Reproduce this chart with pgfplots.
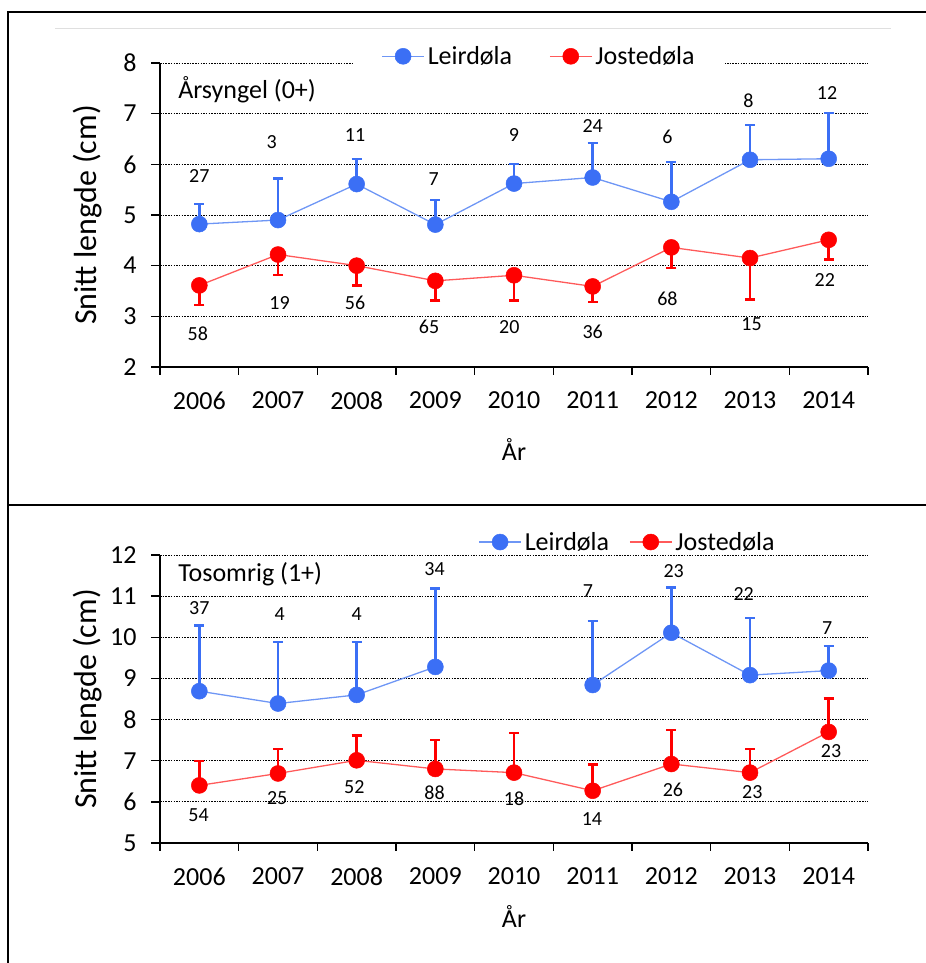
\documentclass[border=0pt]{standalone}
\usepackage{fontspec}
\setmainfont{Carlito}
\usepackage{pgfplots}
\pgfplotsset{compat=1.18}
\definecolor{bmark}{RGB}{59,111,245}
\definecolor{bline}{RGB}{110,150,245}
\definecolor{rmark}{RGB}{255,0,0}
\definecolor{rline}{RGB}{255,90,90}
\newcommand{\bigf}{\fontsize{26bp}{30bp}\selectfont}
\newcommand{\ylf}{\fontsize{32bp}{36bp}\selectfont}
\newcommand{\smf}{\fontsize{20bp}{24bp}\selectfont}

\pgfplotsset{
 common/.style={
  scale only axis, width=708bp,
  xmin=-0.5, xmax=8.5,
  xtick={0,...,8},
  xticklabels={2006,2007,2008,2009,2010,2011,2012,2013,2014},
  minor xtick={-0.5,0.5,...,8.5},
  major x tick style={draw=none},
  tick align=outside,
  major tick length=9bp, minor tick length=8bp,
  axis x line*=bottom, axis y line*=left,
  axis line style={line width=1.5bp,-},
  tick style={black,line width=1.5bp},
  ymajorgrids,
  grid style={black, line width=0.8bp, dash pattern=on 1.5bp off 1.2bp},
  tick label style={font=\bigf},
  xticklabel style={yshift=-12bp},
  yticklabel style={xshift=-11bp},
  /pgf/number format/assume math mode=true,
  label style={font=\bigf},
  ylabel={Snitt lengde (cm)},
  xlabel={År},
  ylabel style={at={(axis description cs:-0.1017,0.5)}, anchor=center, font=\ylf},
  clip=false,
  legend columns=2,
  legend image code/.code={\draw[mark repeat=2,mark phase=2,#1] plot coordinates {(0bp,0bp) (21bp,0bp) (42bp,0bp)};},
  legend style={fill=white, draw=none, font=\bigf, anchor=center, nodes={inner xsep=3bp, inner ysep=1bp}},
 },
 bser/.style={color=bline, line width=1.3bp, mark=*, mark size=8bp, mark options={fill=bmark, draw=bmark, line width=0.5bp},
   error bars/error bar style={color=bmark, line width=2.4bp},
   error bars/error mark options={rotate=90, color=bmark, line width=2.4bp, mark size=5bp}},
 rser/.style={color=rline, line width=1.3bp, mark=*, mark size=8bp, mark options={fill=rmark, draw=rmark, line width=0.5bp},
   error bars/error bar style={color=rmark, line width=2.4bp},
   error bars/error mark options={rotate=90, color=rmark, line width=2.4bp, mark size=5bp}},
 labs/.style={forget plot, draw=none, mark=none, nodes near coords, point meta=explicit symbolic,
   nodes near coords align=center,
   every node near coord/.append style={font=\smf, inner sep=0pt, black, anchor=center}},
}

\begin{document}
\begin{tikzpicture}[x=1bp,y=1bp]
\useasboundingbox (0,0) rectangle (926,963);
% frame
\draw[line width=2.5bp] (8,0) -- (8,951) -- (926,951);
\draw[line width=2.5bp] (8,458) -- (926,458);
\draw[gray!25, line width=1bp] (55,934) -- (891,934);

% ---------- top panel ----------
\begin{axis}[common, at={(160bp,596bp)}, anchor=south west, height=304bp,
  ymin=2, ymax=8, ytick={2,...,8},
  xlabel style={at={(axis description cs:0.5,-0.273)}, anchor=center},
  legend style={at={(axis description cs:0.536,1.022)}, inner xsep=27bp,
    /tikz/every even column/.append style={column sep=34bp}}]
\addplot+[bser, error bars/.cd, y dir=plus, y explicit] coordinates {
 (0,4.82) +- (0,0.40)
 (1,4.90) +- (0,0.82)
 (2,5.61) +- (0,0.50)
 (3,4.81) +- (0,0.49)
 (4,5.62) +- (0,0.39)
 (5,5.74) +- (0,0.68)
 (6,5.26) +- (0,0.79)
 (7,6.09) +- (0,0.69)
 (8,6.11) +- (0,0.90)
};
\addplot+[rser, error bars/.cd, y dir=minus, y explicit] coordinates {
 (0,3.61) +- (0,0.39)
 (1,4.22) +- (0,0.40)
 (2,4.00) +- (0,0.39)
 (3,3.70) +- (0,0.39)
 (4,3.81) +- (0,0.50)
 (5,3.59) +- (0,0.31)
 (6,4.36) +- (0,0.41)
 (7,4.15) +- (0,0.82)
 (8,4.51) +- (0,0.39)
};
\legend{Leirdøla, Jostedøla}
\addplot[labs] table[meta=l] {
x y l
0.00 5.76 27
0.92 6.43 3
1.98 6.57 11
2.98 5.71 7
4.00 6.57 9
5.00 6.75 24
5.95 6.55 6
6.98 7.26 8
7.98 7.41 12
};
\addplot[labs] table[meta=l] {
x y l
-0.02 2.66 58
1.02 3.26 19
1.98 3.26 56
2.92 2.79 65
3.94 2.79 20
5.00 2.70 36
5.95 3.34 68
7.02 2.84 15
7.95 3.71 22
};
\node[anchor=west, font=\bigf, inner sep=0pt] at (axis cs:-0.27,7.47) {Årsyngel (0+)};
\end{axis}

% ---------- bottom panel ----------
\begin{axis}[common, at={(160bp,120bp)}, anchor=south west, height=288bp,
  ymin=5, ymax=12, ytick={5,...,12},
  xlabel style={at={(axis description cs:0.5,-0.2535)}, anchor=center},
  legend style={at={(axis description cs:0.661,1.045)}, inner xsep=10bp,
    /tikz/every even column/.append style={column sep=17bp}}]
\addplot+[bser, error bars/.cd, y dir=plus, y explicit] coordinates {
 (0,8.69) +- (0,1.60)
 (1,8.39) +- (0,1.49)
 (2,8.60) +- (0,1.28)
 (3,9.28) +- (0,1.91)
};
\addplot+[rser, error bars/.cd, y dir=plus, y explicit] coordinates {
 (0,6.40) +- (0,0.60)
 (1,6.69) +- (0,0.60)
 (2,7.01) +- (0,0.60)
 (3,6.80) +- (0,0.70)
 (4,6.71) +- (0,0.97)
 (5,6.27) +- (0,0.64)
 (6,6.92) +- (0,0.82)
 (7,6.71) +- (0,0.58)
 (8,7.70) +- (0,0.81)
};
\legend{Leirdøla, Jostedøla}
\addplot+[bser, forget plot, error bars/.cd, y dir=plus, y explicit] coordinates {
 (5,8.84) +- (0,1.56)
 (6,10.11) +- (0,1.10)
 (7,9.08) +- (0,1.39)
 (8,9.19) +- (0,0.60)
};
\addplot[labs] table[meta=l] {
x y l
0.00 10.70 37
1.02 10.56 4
2.00 10.56 4
2.99 11.65 34
4.94 11.13 7
6.03 11.62 23
6.92 11.05 22
7.98 10.23 7
};
\addplot[labs] table[meta=l] {
x y l
-0.01 5.67 54
0.99 6.08 25
1.97 6.35 52
2.99 6.22 88
4.00 6.08 18
4.99 5.58 14
6.02 6.30 26
7.03 6.24 23
8.03 7.24 23
};
\node[anchor=west, font=\bigf, inner sep=0pt] at (axis cs:-0.27,11.53) {Tosomrig (1+)};
\end{axis}
\end{tikzpicture}
\end{document}
